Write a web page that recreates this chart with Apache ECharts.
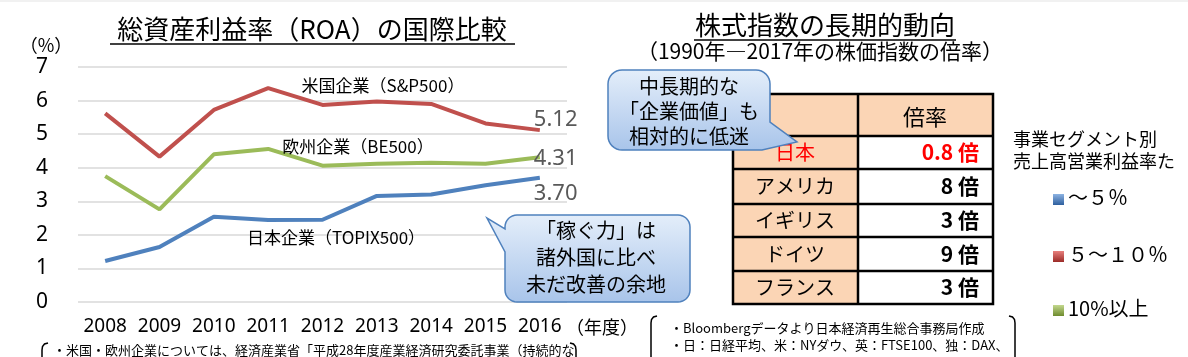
<!DOCTYPE html>
<html><head><meta charset="utf-8">
<script src="https://cdn.jsdelivr.net/npm/echarts@6/dist/echarts.min.js"></script>
<style>html,body{margin:0;padding:0;background:#fff}#c{width:1188px;height:357px}</style>
</head><body><div id="c"></div>
<script>
// ---- data ----
const years = ['2008','2009','2010','2011','2012','2013','2014','2015','2016'];
const usROA = [5.62, 4.33, 5.72, 6.37, 5.87, 5.97, 5.90, 5.32, 5.12];
const euROA = [3.75, 2.76, 4.40, 4.56, 4.06, 4.12, 4.15, 4.12, 4.31];
const jpROA = [1.22, 1.64, 2.54, 2.44, 2.45, 3.16, 3.20, 3.48, 3.70];
const seriesNames = ['米国企業（S&P500）', '欧州企業（BE500）', '日本企業（TOPIX500）'];
const countries = ['日本', 'アメリカ', 'イギリス', 'ドイツ', 'フランス'];
const multiples = ['0.8', '8', '3', '9', '3'];
const legendTitle = ['事業セグメント別', '売上高営業利益率た'];
const legendItems = ['～５％', '５～１０％', '10%以上'];

const JP = "'Noto Sans CJK JP', sans-serif";
const NUM = "'Noto Sans', 'Noto Sans CJK JP', sans-serif";
const C_US = '#C0504D', C_EU = '#9BBB59', C_JP = '#4F81BD';

function txt(text, x, y, size, opts) {
  opts = opts || {};
  return { type: 'text', z: opts.z || 20, style: {
    text: text, x: x, y: y, fill: opts.fill || '#000',
    font: (opts.weight || 'normal') + ' ' + size + 'px ' + (opts.family || JP),
    textAlign: opts.align || 'center', textVerticalAlign: 'middle' } };
}
function line(x1, y1, x2, y2, color, w, z) {
  return { type: 'line', z: z || 15, shape: { x1: x1, y1: y1, x2: x2, y2: y2 }, style: { stroke: color, lineWidth: w } };
}
function vgrad(c1, c2) {
  return new echarts.graphic.LinearGradient(0, 0, 0, 1, [{ offset: 0, color: c1 }, { offset: 1, color: c2 }]);
}
function arc(pts, cx, cy, r, a0, a1) {
  const n = 8;
  for (let i = 0; i <= n; i++) {
    const a = (a0 + (a1 - a0) * i / n) * Math.PI / 180;
    pts.push([cx + r * Math.cos(a), cy + r * Math.sin(a)]);
  }
}
function polyline(pts) {
  return { type: 'polyline', z: 20, shape: { points: pts }, style: { fill: null, stroke: '#000', lineWidth: 1.5 } };
}

const g = [];
g.push(line(0, 1, 1188, 1, '#E3E3E3', 1));
// left title
g.push(txt('総資産利益率（ROA）の国際比較', 312, 29, 26));
g.push(line(110, 44, 515, 44, '#000', 1.5));
g.push(txt('（%）', 46, 45, 18));
g.push(txt('（年度）', 566, 327, 18, { align: 'left' }));
// series name labels
g.push(txt(seriesNames[0], 383, 86, 17));
g.push(txt(seriesNames[1], 358, 147, 17));
g.push(txt(seriesNames[2], 336, 238, 17));

// callout 1 (tail on left edge)
(function () {
  const x0 = 505, y0 = 215, x1 = 690, y1 = 302, r = 12, p = [];
  arc(p, x0 + r, y0 + r, r, 180, 270);
  arc(p, x1 - r, y0 + r, r, 270, 360);
  arc(p, x1 - r, y1 - r, r, 0, 90);
  arc(p, x0 + r, y1 - r, r, 90, 180);
  p.push([x0, 252], [487, 218], [x0, 229]);
  g.push({ type: 'polygon', z: 30, shape: { points: p },
    style: { fill: vgrad('#E4EEFA', '#A8C4EA'), stroke: '#4F81BD', lineWidth: 1.5 } });
})();
g.push(txt('「稼ぐ力」は', 596, 230, 20, { z: 31 }));
g.push(txt('諸外国に比べ', 596, 257, 20, { z: 31 }));
g.push(txt('未だ改善の余地', 596, 284, 20, { z: 31 }));

// right titles
g.push(txt('株式指数の長期的動向', 825, 25, 26));
g.push(line(694, 40, 956, 40, '#000', 1.5));
g.push(txt('（1990年―2017年の株価指数の倍率）', 820, 51, 21));

// table
const tL = 733, tM = 858, tR = 993;
const rowY = [94, 136, 169, 204, 237, 271, 304];
g.push({ type: 'rect', z: 10, shape: { x: tL, y: rowY[0], width: tM - tL, height: rowY[6] - rowY[0] }, style: { fill: '#FBD5B5' } });
g.push({ type: 'rect', z: 10, shape: { x: tM, y: rowY[0], width: tR - tM, height: rowY[1] - rowY[0] }, style: { fill: '#FBD5B5' } });
g.push({ type: 'rect', z: 10, shape: { x: tM, y: rowY[1], width: tR - tM, height: rowY[6] - rowY[1] }, style: { fill: '#FFFFFF' } });
for (let i = 1; i < 6; i++) g.push(line(tL, rowY[i], tR, rowY[i], '#000', 2.5, 12));
g.push(line(tM, rowY[0], tM, rowY[6], '#000', 2.5, 12));
g.push({ type: 'rect', z: 12, shape: { x: tL, y: rowY[0], width: tR - tL, height: rowY[6] - rowY[0] }, style: { fill: null, stroke: '#000', lineWidth: 2.5 } });
g.push(txt('倍率', 925, 117, 22, { z: 13 }));
countries.forEach(function (c, i) {
  const cy = (rowY[i + 1] + rowY[i + 2]) / 2;
  const red = i === 0;
  g.push(txt(c, 795, cy, 20, { z: 13, fill: red ? '#FF0000' : '#000' }));
  g.push(txt(multiples[i] + ' 倍', 979, cy, 21, { z: 13, fill: red ? '#FF0000' : '#000', weight: 'bold', align: 'right' }));
});

// callout 2 (tail at bottom-right)
(function () {
  const x0 = 608, y0 = 70, x1 = 770, y1 = 150, r = 14, p = [];
  arc(p, x0 + r, y0 + r, r, 180, 270);
  arc(p, x1 - r, y0 + r, r, 270, 360);
  p.push([x1, 122], [797, 142], [762, y1]);
  arc(p, x0 + r, y1 - r, r, 90, 180);
  g.push({ type: 'polygon', z: 30, shape: { points: p },
    style: { fill: vgrad('#E4EEFA', '#A8C4EA'), stroke: '#4F81BD', lineWidth: 1.5 } });
})();
g.push(txt('中長期的な', 689, 86, 20, { z: 31 }));
g.push(txt('「企業価値」も', 689, 111, 20, { z: 31 }));
g.push(txt('相対的に低迷', 689, 136, 20, { z: 31 }));

// right legend
g.push(txt(legendTitle[0], 1013, 139, 18, { align: 'left' }));
g.push(txt(legendTitle[1], 1013, 161, 18, { align: 'left' }));
const legColors = [['#8DB3E2', '#2E5F9E'], ['#E8807D', '#9B2B28'], ['#C3D88E', '#6E8B2E']];
const legY = [199, 256, 310];
legendItems.forEach(function (t, i) {
  g.push({ type: 'rect', z: 20, shape: { x: 1053, y: legY[i] - 5, width: 11, height: 11 },
    style: { fill: vgrad(legColors[i][0], legColors[i][1]) } });
  g.push(txt(t, 1068, legY[i] - 2, 20, { align: 'left' }));
});

// notes
g.push(txt('・米国・欧州企業については、経済産業省「平成28年度産業経済研究委託事業（持続的な', 53, 350, 13, { align: 'left' }));
g.push(polyline([[48, 343], [44.5, 344], [42.5, 346.5], [42, 350], [42, 357]]));
g.push(polyline([[570, 343], [573.5, 344], [575.5, 346.5], [576, 350], [576, 357]]));
g.push(txt('・Bloombergデータより日本経済再生総合事務局作成', 670, 328, 13, { align: 'left' }));
g.push(txt('・日：日経平均、米：NYダウ、英：FTSE100、独：DAX、', 670, 345, 13, { align: 'left' }));
g.push(polyline([[657, 316], [653.5, 317], [651.5, 319.5], [651, 323], [651, 357]]));
g.push(polyline([[1009, 316], [1012.5, 317], [1014.5, 319.5], [1015, 323], [1015, 357]]));

function mkSeries(name, data, color, off) {
  return { name: name, type: 'line', data: data, symbol: 'none', smooth: false,
    lineStyle: { color: color, width: 4 }, itemStyle: { color: color },
    endLabel: { show: true, formatter: function (p) { return Number(p.value).toFixed(2); },
      color: '#595959', fontSize: 22, fontFamily: NUM, offset: off, distance: 0 },
    animation: false };
}

const chart = echarts.init(document.getElementById('c'), null, { renderer: 'canvas' });
chart.setOption({
  backgroundColor: '#fff',
  animation: false,
  grid: { left: 78, right: 621, top: 67, bottom: 55, containLabel: false },
  xAxis: { type: 'category', data: years, boundaryGap: true,
    axisLine: { show: false }, axisTick: { show: false },
    axisLabel: { color: '#000', fontSize: 19, fontFamily: NUM, margin: 15, interval: 0 } },
  yAxis: { type: 'value', min: 0, max: 7, interval: 1,
    axisLine: { show: false }, axisTick: { show: false },
    axisLabel: { color: '#000', fontSize: 21, fontFamily: NUM, margin: 30 },
    splitLine: { lineStyle: { color: '#D9D9D9', width: 1.5 } } },
  series: [
    mkSeries(seriesNames[0], usROA, C_US, [-6, -10]),
    mkSeries(seriesNames[1], euROA, C_EU, [-6, 1]),
    mkSeries(seriesNames[2], jpROA, C_JP, [-6, 16])
  ],
  graphic: g
});
</script></body></html>
